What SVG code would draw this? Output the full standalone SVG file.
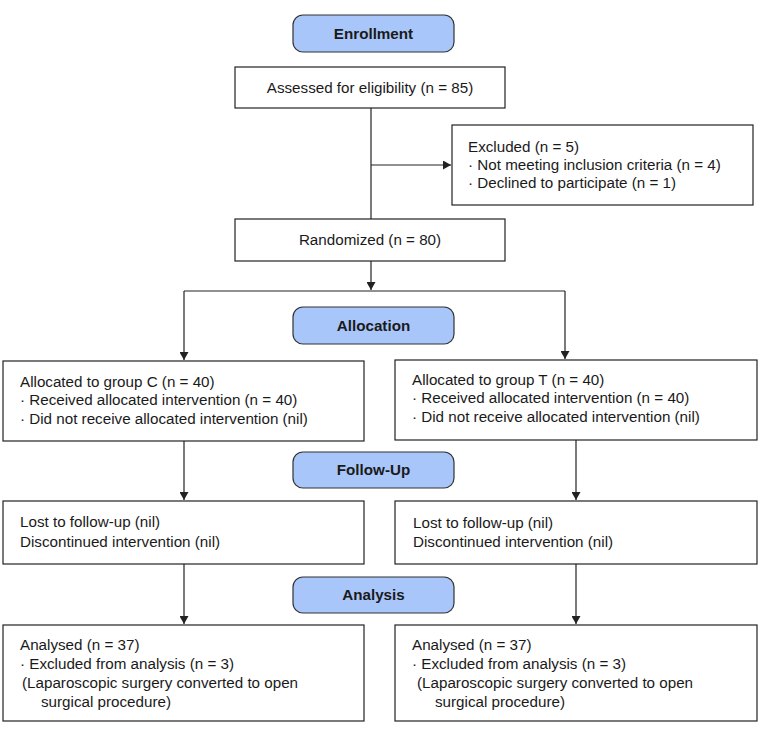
<svg xmlns="http://www.w3.org/2000/svg" width="765" height="730" viewBox="0 0 765 730">
<style>
text{font-family:"Liberation Sans",Arial,sans-serif;font-size:15.2px;fill:#1a1a1a}
.h{font-weight:bold;text-anchor:middle}
.c{text-anchor:middle}
.box{fill:#fff;stroke:#222;stroke-width:1.2}
.hdr{fill:#a9c6fa;stroke:#333;stroke-width:1.2}
.ln{fill:none;stroke:#222;stroke-width:1.2}
</style>
<defs>
<marker id="ah" markerWidth="8" markerHeight="9" refX="8" refY="4.5" orient="auto" markerUnits="userSpaceOnUse">
<path d="M0,0 L8,4.5 L0,9 Z" fill="#222"/>
</marker>
</defs>
<rect width="765" height="730" fill="#fff"/>
<g id="connectors">
<line class="ln" x1="371" y1="108" x2="371" y2="219"/>
<line class="ln" x1="371" y1="165" x2="451" y2="165" marker-end="url(#ah)"/>
<line class="ln" x1="371" y1="261" x2="371" y2="290" marker-end="url(#ah)"/>
<line class="ln" x1="184" y1="291" x2="565" y2="291"/>
<line class="ln" x1="184" y1="291" x2="184" y2="360" marker-end="url(#ah)"/>
<line class="ln" x1="565" y1="291" x2="565" y2="359" marker-end="url(#ah)"/>
<line class="ln" x1="184" y1="441" x2="184" y2="500" marker-end="url(#ah)"/>
<line class="ln" x1="576" y1="440" x2="576" y2="500" marker-end="url(#ah)"/>
<line class="ln" x1="184" y1="564" x2="184" y2="624" marker-end="url(#ah)"/>
<line class="ln" x1="576" y1="564" x2="576" y2="624" marker-end="url(#ah)"/>
</g>
<g id="enrollment">
<rect class="hdr" x="293" y="15" width="161" height="37" rx="10"/>
<text class="h" x="373.5" y="39">Enrollment</text>
</g>
<g id="assessed">
<rect class="box" x="235" y="67" width="270" height="41"/>
<text class="c" x="370" y="93">Assessed for eligibility (n = 85)</text>
</g>
<g id="excluded">
<rect class="box" x="452" y="125" width="301" height="80"/>
<text x="468" y="152">Excluded (n = 5)</text>
<text x="468" y="170">· Not meeting inclusion criteria (n = 4)</text>
<text x="468" y="188">· Declined to participate (n = 1)</text>
</g>
<g id="randomized">
<rect class="box" x="235" y="219" width="270" height="42"/>
<text class="c" x="370" y="245">Randomized (n = 80)</text>
</g>
<g id="allocation">
<rect class="hdr" x="293" y="307" width="161" height="37" rx="10"/>
<text class="h" x="373.5" y="331">Allocation</text>
</g>
<g id="groupC">
<rect class="box" x="3" y="361" width="361" height="80"/>
<text x="20" y="387">Allocated to group C (n = 40)</text>
<text x="20" y="405">· Received allocated intervention (n = 40)</text>
<text x="20" y="424">· Did not receive allocated intervention (nil)</text>
</g>
<g id="groupT">
<rect class="box" x="395" y="360" width="362" height="80"/>
<text x="412" y="385">Allocated to group T (n = 40)</text>
<text x="412" y="403">· Received allocated intervention (n = 40)</text>
<text x="412" y="422">· Did not receive allocated intervention (nil)</text>
</g>
<g id="followup">
<rect class="hdr" x="293" y="452" width="161" height="36" rx="10"/>
<text class="h" x="373.5" y="475">Follow-Up</text>
</g>
<g id="followC">
<rect class="box" x="3" y="501" width="361" height="63"/>
<text x="20" y="527">Lost to follow-up (nil)</text>
<text x="20" y="547">Discontinued intervention (nil)</text>
</g>
<g id="followT">
<rect class="box" x="395" y="501" width="362" height="63"/>
<text x="413" y="528">Lost to follow-up (nil)</text>
<text x="413" y="547">Discontinued intervention (nil)</text>
</g>
<g id="analysis">
<rect class="hdr" x="293" y="577" width="161" height="36" rx="10"/>
<text class="h" x="373.5" y="600">Analysis</text>
</g>
<g id="analysisC">
<rect class="box" x="3" y="625" width="361" height="96"/>
<text x="20" y="650">Analysed (n = 37)</text>
<text x="20" y="669">· Excluded from analysis (n = 3)</text>
<text x="22" y="688">(Laparoscopic surgery converted to open</text>
<text x="41" y="707">surgical procedure)</text>
</g>
<g id="analysisT">
<rect class="box" x="395" y="625" width="362" height="96"/>
<text x="412" y="650">Analysed (n = 37)</text>
<text x="412" y="669">· Excluded from analysis (n = 3)</text>
<text x="417" y="688">(Laparoscopic surgery converted to open</text>
<text x="435" y="707">surgical procedure)</text>
</g>
</svg>
